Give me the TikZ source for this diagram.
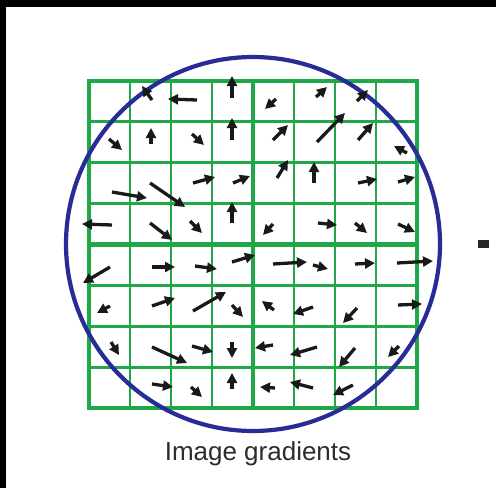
\documentclass[tikz,border=0pt]{standalone}
\usepackage{fontspec}
\setmainfont{Liberation Sans}
\usetikzlibrary{arrows.meta}
\definecolor{grn}{RGB}{32,168,72}
\definecolor{blu}{RGB}{40,44,150}
\definecolor{txt}{RGB}{45,45,45}
\tikzset{
  grad/.style={line width=3.3pt, black!90, -{Triangle[length=10pt,width=10pt]}},
  thinline/.style={grn, line width=2.9pt},
  thickline/.style={grn, line width=4.4pt},
}
\begin{document}
\begin{tikzpicture}[x=1pt,y=-1pt]
\useasboundingbox (0,0) rectangle (496,488);
\fill[white] (0,0) rectangle (496,488);
\fill[black] (0,0) rectangle (496,7);
\fill[black] (0,0) rectangle (6,488);
% grid
\foreach \i in {1,2,3,5,6,7} {
  \draw[thinline] ({89+41*\i},81) -- ({89+41*\i},408);
  \draw[thinline] (89,{81+40.875*\i}) -- (417,{81+40.875*\i});
}
\draw[thickline] (253,81) -- (253,408);
\draw[thickline] (89,244.5) -- (417,244.5);
\draw[thickline] (89,81) rectangle (417,408);
% circle
\draw[blu, line width=4.2pt] (253,244) circle (187);
% gradient arrows
\foreach \a/\b/\c/\d in {
152/100/142/86, 197/100/168/99, 232/98/232/76,
109/139/122/150, 151/144/151/128, 192/134/204/145, 232/140/232/118,
112/192/147/198, 150/183/185/207, 193/183/215/177, 233/183/250/176,
112/225/82/224, 150/223/172/240, 190/221/202/233, 232/223/232/202,
276/99/265/109, 316/97/327/87, 357/101/368/90,
273/140/288/125, 317/142/345/113, 358/140/373/123, 407/153/394/146,
277/178/288/160, 314/183/314/162, 358/183/377/179, 398/182/415/177,
273/224/263/235, 318/223/337/225, 355/223/367/233, 398/224/415/232,
110/267/83/283, 152/267/175/267, 195/266/217/269, 232/262/255/255,
110/306/97/313, 152/306/175/298, 193/311/226/292, 232/305/243/317,
111/342/119/355, 152/347/187/363, 192/346/213/352, 232/342/232/358,
152/384/173/387, 191/387/202/397, 232/389/232/373,
273/264/307/262, 313/265/328/269, 355/264/375/263, 397/263/433/261,
274/310/262/301, 313/307/293/314, 357/308/343/323, 398/305/422/304,
273/345/255/348, 317/347/290/355, 355/348/339/367, 399/346/388/357,
275/388/260/387, 313/388/290/382, 353/385/333/395} {
  \draw[grad] (\a,\b) -- (\c,\d);
}
% small mark at right
\fill[black!85] (478,240) rectangle (489,248);
% caption
\node[txt, font=\fontsize{26}{30}\selectfont, anchor=base] (cap) at (258,460) {Image gradients};
\end{tikzpicture}
\end{document}
